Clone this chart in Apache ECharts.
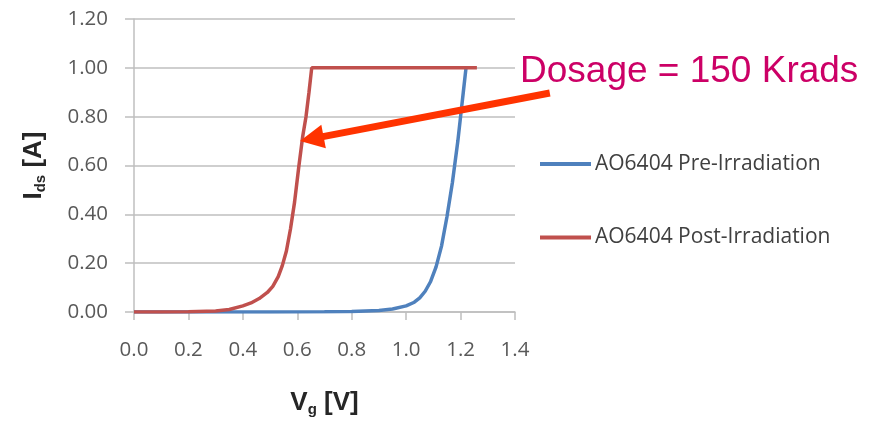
<!DOCTYPE html>
<html><head><meta charset="utf-8">
<script src="https://cdn.jsdelivr.net/npm/echarts@6/dist/echarts.min.js"></script>
<style>html,body{margin:0;padding:0;background:#fff}#c{width:877px;height:422px}</style>
</head><body><div id="c"></div>
<script>
const xTicks = [0, 0.2, 0.4, 0.6, 0.8, 1.0, 1.2, 1.4];
const yTicks = [0, 0.2, 0.4, 0.6, 0.8, 1.0, 1.2];
const preName = 'AO6404 Pre-Irradiation';
const postName = 'AO6404 Post-Irradiation';
const preX = [0, 0.3, 0.5, 0.7, 0.8, 0.9, 0.95, 1.0, 1.03, 1.05, 1.07, 1.09, 1.11, 1.13, 1.15, 1.17, 1.19, 1.2, 1.21, 1.22];
const preY = [0, 0, 0, 0.001, 0.002, 0.006, 0.012, 0.025, 0.04, 0.058, 0.085, 0.125, 0.185, 0.27, 0.39, 0.53, 0.7, 0.8, 0.9, 1.0];
const postX = [0, 0.1, 0.2, 0.3, 0.35, 0.4, 0.43, 0.46, 0.49, 0.51, 0.53, 0.545, 0.56, 0.575, 0.59, 0.605, 0.62, 0.632, 0.643, 0.653, 1.26];
const postY = [0, 0, 0.001, 0.004, 0.01, 0.025, 0.037, 0.055, 0.08, 0.105, 0.145, 0.19, 0.25, 0.34, 0.45, 0.59, 0.72, 0.8, 0.9, 1.0, 1.0];
const annotationText = 'Dosage = 150 Krads';
const arrowFrom = [1.528, 0.897];
const arrowTo = [0.61, 0.70];

const chart = echarts.init(document.getElementById('c'));
const toPairs = (xs, ys) => xs.map((x, i) => [x, ys[i]]);
chart.setOption({
  animation: false,
  grid: {left: 134, right: 362, top: 19, bottom: 110, containLabel: false},
  legend: {
    orient: 'vertical', left: 535, top: 147, itemGap: 49.5,
    icon: 'rect', itemWidth: 51, itemHeight: 4,
    textStyle: {fontFamily: 'Open Sans', fontSize: 21, lineHeight: 24, color: '#404040', padding: [0, 0, 0, -1]},
    data: [preName, postName]
  },
  xAxis: {
    type: 'value', min: 0, max: 1.4, interval: 0.2,
    name: 'V{sub|g} [V]', nameLocation: 'middle', nameGap: 76,
    nameTextStyle: {fontFamily: 'Liberation Sans', fontWeight: 'bold', fontSize: 26, color: '#262626',
      rich: {sub: {fontFamily: 'Liberation Sans', fontWeight: 'bold', fontSize: 15, color: '#262626', verticalAlign: 'bottom', padding: [14, 0, 0, 0]}}},
    axisLine: {lineStyle: {color: '#bfbfbf', width: 1.5}},
    axisTick: {show: true, length: 8, lineStyle: {color: '#bfbfbf', width: 1.5}},
    axisLabel: {fontFamily: 'Open Sans', fontSize: 20.5, color: '#595959', margin: 28, formatter: v => v.toFixed(1)},
    splitLine: {show: false}
  },
  yAxis: {
    type: 'value', min: 0, max: 1.2, interval: 0.2,
    name: 'I{sub|ds} [A]', nameLocation: 'middle', nameGap: 86, nameRotate: 90,
    nameTextStyle: {fontFamily: 'Liberation Sans', fontWeight: 'bold', fontSize: 26, color: '#262626',
      rich: {sub: {fontFamily: 'Liberation Sans', fontWeight: 'bold', fontSize: 15, color: '#262626', padding: [14, 0, 0, 0]}}},
    axisLine: {show: true, lineStyle: {color: '#bfbfbf', width: 1.5}},
    axisTick: {show: true, length: 9, lineStyle: {color: '#bfbfbf', width: 1.5}},
    axisLabel: {fontFamily: 'Open Sans', fontSize: 20.5, color: '#595959', margin: 26, formatter: v => v.toFixed(2)},
    splitLine: {lineStyle: {color: '#bfbfbf', width: 1.5}}
  },
  series: [
    {name: preName, type: 'line', data: toPairs(preX, preY), showSymbol: false, symbol: 'none',
     lineStyle: {color: '#4F81BD', width: 3.5}, itemStyle: {color: '#4F81BD'}, z: 2},
    {name: postName, type: 'line', data: toPairs(postX, postY), showSymbol: false, symbol: 'none',
     lineStyle: {color: '#C0504D', width: 3.5}, itemStyle: {color: '#C0504D'}, z: 3}
  ]
});

const p0 = chart.convertToPixel({gridIndex: 0}, arrowFrom);
const p1 = chart.convertToPixel({gridIndex: 0}, arrowTo);
const dx = p1[0] - p0[0], dy = p1[1] - p0[1];
const len = Math.hypot(dx, dy);
const ux = dx / len, uy = dy / len;
const headLen = 24, headHalf = 12;
const bx = p1[0] - ux * headLen, by = p1[1] - uy * headLen;
chart.setOption({
  graphic: [
    {type: 'line', shape: {x1: p0[0], y1: p0[1], x2: bx + ux * 2, y2: by + uy * 2},
     style: {stroke: '#FF3300', lineWidth: 7}, z: 100},
    {type: 'polygon', shape: {points: [[p1[0], p1[1]], [bx - uy * headHalf, by + ux * headHalf], [bx + uy * headHalf, by - ux * headHalf]]},
     style: {fill: '#FF3300'}, z: 100},
    {type: 'text', left: 520, top: 53, z: 101,
     style: {text: annotationText, fill: '#CC0066', font: '37px "Liberation Sans", Arial, sans-serif'}}
  ]
});
</script>
</body></html>
